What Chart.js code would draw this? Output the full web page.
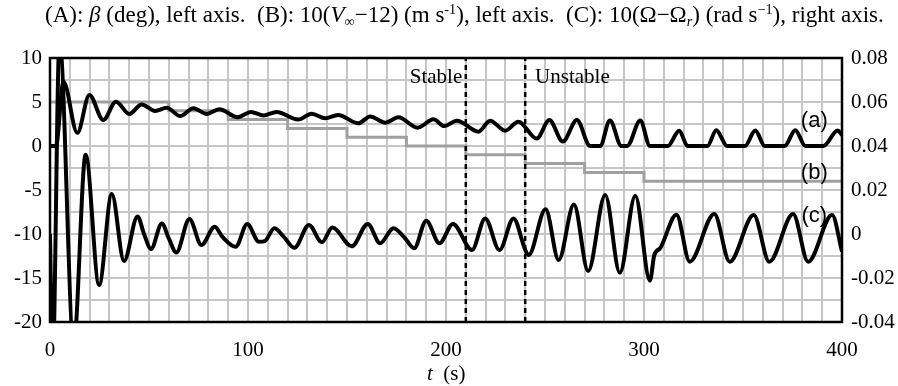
<!DOCTYPE html>
<html lang="en">
<head>
    <meta charset="UTF-8">
    <title>Beta / V / Omega response</title>
    <script src="https://cdn.jsdelivr.net/npm/chart.js"></script>
    <style>
        * {
            margin: 0;
            padding: 0;
            box-sizing: border-box;
        }

        body {
            background: white;
            font-family: "Liberation Serif", serif;
            color: black;
        }

        .wrap {
            position: relative;
            width: 898px;
            height: 386px;
        }

        #chart {
            position: absolute;
            left: 0;
            top: 0;
        }

        .title {
            position: absolute;
            left: 45px;
            top: 2px;
            font-size: 23px;
            white-space: pre;
        }

        .xlabel {
            position: absolute;
            left: 427px;
            top: 361px;
            font-size: 21px;
            white-space: pre;
        }

        .sub, .sup {
            font-size: 0.62em;
            position: relative;
        }
        .sub { top: 0.3em; }
        .sup { top: -0.55em; }
    </style>
</head>
<body>
    <div class="wrap">
        <canvas id="chart" width="898" height="386"></canvas>
        <div class="title">(A): <i>β</i> (deg), left axis.  (B): 10(<i>V</i><span class="sub">∞</span>−12) (m s<span class="sup">-1</span>), left axis.  (C): 10(Ω−Ω<span class="sub"><i>r</i></span>) (rad s<span class="sup">−1</span>), right axis.</div>
        <div class="xlabel"><i>t</i>  (s)</div>
    </div>

    <script>
        // (a) beta, deg (left axis)
        const tA = [0, 3, 6.8, 13.8, 19.9, 26.9, 33.3, 40.1, 46.3, 53.1, 59, 65.7, 72.4, 79.2, 85.5, 94.8,
            101.5, 107.8, 114.5, 125.3, 132.2, 139, 145.5, 155.7, 161.7, 169.3, 176, 185.6, 193.7, 199.1,
            205.5, 216.4, 222.3, 229.9, 236.6, 245.8, 252.2, 259, 266.1, 272.8, 277.8, 282.8, 288.6, 291.5,
            298.1, 303, 312, 317.8, 322, 332, 336.5, 342, 351, 356.2, 361, 371, 376.4, 381.5, 390.6, 397.8, 400];
        const betaA = [0, 0, 7.3, 1.5, 5.8, 2.95, 5.04, 3.64, 4.73, 3.98, 4.35, 3.4, 4.28, 3.64, 4.18, 3.27,
            3.87, 3.48, 3.87, 3.0, 3.67, 3.14, 3.52, 2.58, 3.36, 2.65, 3.26, 2.08, 3.03, 2.27,
            2.88, 1.63, 2.88, 1.74, 2.76, 0.84, 2.95, 0.5, 2.95, 0, 0, 2.9, 0, 0,
            2.9, 0, 0, 1.74, 0, 0, 1.8, 0, 0, 1.76, 0, 0, 1.8, 0, 0, 1.76, 1.25];

        // (b) 10(V - 12), stepped (left axis)
        const tB = [0, 60, 90, 120, 150, 180, 210, 240, 270, 300, 400];
        const speedB = [5, 4, 3, 2, 1, 0, -1, -2, -3, -4, -4];

        // (c) 10(Omega - Omega_r), rad/s (right axis)
        const tC = [0, 1.3, 4.8, 12, 18, 24.8, 31.2, 37.4, 44.2, 47.5, 51, 56.5, 60, 63.8, 70.4, 76.5,
            83.2, 87, 93.8, 99.6, 105.5, 108.5, 113.3, 118, 123.4, 130.8, 137.3, 142.6, 152.4, 160.5,
            166.7, 173.5, 179, 183.9, 190, 196.7, 203.5, 213.1, 219.8, 227, 234.1, 240, 241.7, 250.3,
            256.9, 264.6, 271.8, 280.4, 287.8, 295.6, 303, 305.2, 308.2, 316.4, 323.1, 335.5, 343.3,
            355.4, 363.3, 375.3, 382.9, 395, 400];
        const omegaC = [0, -0.06, 0.088, -0.05, 0.036, -0.0232, 0.0182, -0.0123, 0.008, 0.0, -0.0068, 0.0048, -0.002, -0.0084, 0.0068, -0.005,
            0.0033, -0.0012, -0.0058, 0.0045, -0.0035, -0.0032, 0.0026, -0.0012, -0.0063, 0.0041, -0.0038, 0.0029, -0.0056, 0.0046,
            -0.0042, 0.0026, -0.0016, -0.0065, 0.006, -0.0042, 0.0046, -0.0073, 0.0071, -0.0073, 0.0071, -0.0072, -0.0096, 0.0113,
            -0.0118, 0.0134, -0.0168, 0.0177, -0.0176, 0.0174, -0.0212, -0.0096, -0.0064, 0.0088, -0.0126, 0.0091, -0.0126,
            0.0086, -0.0126, 0.0091, -0.0126, 0.0086, -0.008];

        const markerTimes = [210, 240];
        const xTickLabels = [0, 100, 200, 300, 400];

        const pts = (xs, ys) => xs.map((x, i) => ({ x: x, y: ys[i] }));

        const serif = '"Liberation Serif", "Times New Roman", serif';

        const markerSets = markerTimes.map(t => ({
            data: [{ x: t, y: -20 }, { x: t, y: 10 }],
            yAxisID: 'y',
            borderColor: 'black',
            borderWidth: 2.5,
            borderDash: [5, 4],
            pointRadius: 0,
            order: 0
        }));

        // text labels and the plot frame
        const extras = {
            id: 'extras',
            afterDatasetsDraw(chart) {
                const ctx = chart.ctx;
                const x = chart.scales.x, y = chart.scales.y;
                const a = chart.chartArea;
                ctx.save();
                ctx.fillStyle = 'black';
                ctx.font = '21px ' + serif;
                ctx.textBaseline = 'alphabetic';
                ctx.textAlign = 'right';
                ctx.fillText('Stable', x.getPixelForValue(208.2), y.getPixelForValue(7.16));
                ctx.textAlign = 'left';
                ctx.fillText('Unstable', x.getPixelForValue(245), y.getPixelForValue(7.16));

                ctx.font = '22px "Liberation Sans", Arial, sans-serif';
                ctx.textAlign = 'center';
                ctx.textBaseline = 'middle';
                ctx.fillText('(a)', x.getPixelForValue(386), y.getPixelForValue(2.84));
                ctx.fillText('(b)', x.getPixelForValue(386), y.getPixelForValue(-3.07));
                ctx.fillText('(c)', x.getPixelForValue(386), y.getPixelForValue(-7.95));

                ctx.strokeStyle = 'black';
                ctx.lineWidth = 2.5;
                ctx.strokeRect(a.left, a.top, a.right - a.left, a.bottom - a.top);
                ctx.restore();
            }
        };

        new Chart(document.getElementById('chart'), {
            type: 'line',
            data: {
                datasets: [
                    {
                        label: '(a)',
                        data: pts(tA, betaA),
                        yAxisID: 'y',
                        borderColor: 'black',
                        borderWidth: 4,
                        cubicInterpolationMode: 'monotone',
                        pointRadius: 0,
                        order: 1
                    },
                    {
                        label: '(c)',
                        data: pts(tC, omegaC),
                        yAxisID: 'y1',
                        borderColor: 'black',
                        borderWidth: 4,
                        cubicInterpolationMode: 'monotone',
                        pointRadius: 0,
                        order: 1
                    },
                    {
                        label: '(b)',
                        data: pts(tB, speedB),
                        yAxisID: 'y',
                        borderColor: '#a0a0a0',
                        borderWidth: 3,
                        stepped: true,
                        pointRadius: 0,
                        order: 2
                    },
                    ...markerSets
                ]
            },
            options: {
                responsive: false,
                animation: false,
                events: [],
                clip: 0,
                layout: { padding: { top: 58, bottom: 24, left: 0, right: 0 } },
                plugins: {
                    legend: { display: false },
                    tooltip: { enabled: false }
                },
                scales: {
                    x: {
                        type: 'linear',
                        min: 0,
                        max: 400,
                        afterFit: s => { s.height = 40; },
                        grid: { color: '#c6c6c6', lineWidth: 2, drawTicks: false },
                        border: { display: false },
                        ticks: {
                            stepSize: 10,
                            autoSkip: false,
                            maxRotation: 0,
                            padding: 16,
                            color: 'black',
                            font: { family: serif, size: 21 },
                            callback: v => xTickLabels.includes(v) ? String(v) : ''
                        }
                    },
                    y: {
                        position: 'left',
                        min: -20,
                        max: 10,
                        afterFit: s => { s.width = 50; },
                        grid: { color: '#c6c6c6', lineWidth: 2, drawTicks: false },
                        border: { display: false },
                        ticks: {
                            stepSize: 2.5,
                            autoSkip: false,
                            padding: 8,
                            color: 'black',
                            font: { family: serif, size: 21 },
                            callback: v => v % 5 === 0 ? String(v) : ''
                        }
                    },
                    y1: {
                        position: 'right',
                        min: -0.04,
                        max: 0.08,
                        afterFit: s => { s.width = 56; },
                        grid: { display: false, drawTicks: false },
                        border: { display: false },
                        ticks: {
                            stepSize: 0.02,
                            padding: 9,
                            color: 'black',
                            font: { family: serif, size: 21 },
                            callback: v => String(parseFloat(v.toFixed(2)))
                        }
                    }
                }
            },
            plugins: [extras]
        });
    </script>
</body>
</html>
